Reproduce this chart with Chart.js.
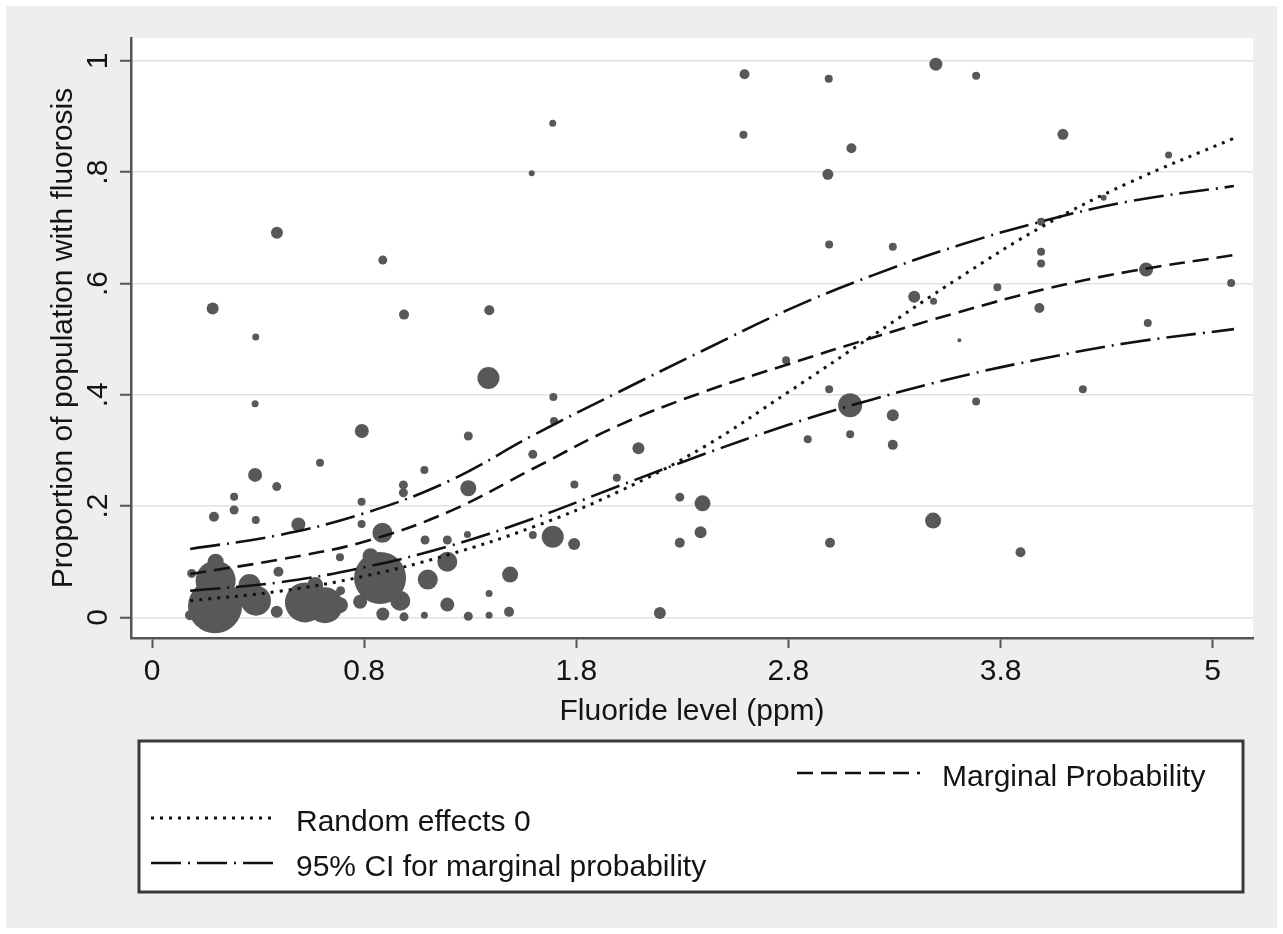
<!DOCTYPE html>
<html>
<head>
<meta charset="utf-8">
<script src="https://cdn.jsdelivr.net/npm/chart.js@4.4.1/dist/chart.umd.min.js"></script>
<style>
  html, body { margin: 0; padding: 0; background: #fff; }
  #wrap { width: 1283px; height: 934px; }
</style>
</head>
<body>
<div id="wrap"><canvas id="chart" width="1283" height="934"></canvas></div>
<script>
// x axis is in tick units: tick i is labelled xTickLabels[i]
const xTickValues = [0, 1, 2, 3, 4, 5]
const xTickLabels = ["0", "0.8", "1.8", "2.8", "3.8", "5"]
const yTickValues = [0, 0.2, 0.4, 0.6, 0.8, 1]
const yTickLabels = ["0", ".2", ".4", ".6", ".8", "1"]

// observed proportions (x, y, marker radius)
const obsX = [1.889, 1.790, 0.589, 1.088, 0.286, 1.188, 1.590, 0.489, 1.586, 1.892,
    2.793, 3.190, 3.695, 3.885, 2.788, 3.297, 3.186, 4.294, 4.486, 4.792,
    4.191, 3.192, 3.492, 4.191, 4.191, 4.686, 5.087, 3.985, 3.593, 3.684,
    4.183, 4.694, 3.806, 2.989, 3.192, 3.291, 3.492, 4.388, 3.885, 3.091,
    3.291, 3.492, 2.488, 2.595, 2.586, 2.488, 3.682, 3.196, 4.094, 2.394,
    1.895, 1.491, 1.795, 2.293, 1.991, 2.191, 1.491, 1.889, 1.990, 1.795,
    1.487, 1.392, 1.392, 1.300, 1.688, 1.392, 1.491, 1.589, 1.683, 1.589,
    0.989, 0.792, 0.486, 0.588, 1.284, 1.185, 1.185, 0.387, 0.387, 0.292,
    0.489, 0.988, 0.988, 0.690, 1.086, 1.287, 0.886, 0.596, 0.889, 0.981,
    1.188, 1.088, 1.188, 1.284, 0.588, 0.187, 0.179, 0.486,
    0.297, 0.300, 0.300, 0.490, 0.460, 0.420,
    0.721, 0.815, 0.769, 0.886,
    1.075, 1.170, 1.030]
const obsY = [0.888, 0.798, 0.691, 0.642, 0.555, 0.544, 0.552, 0.504, 0.430, 0.396,
    0.976, 0.968, 0.994, 0.973, 0.867, 0.843, 0.796, 0.868, 0.754, 0.831,
    0.711, 0.670, 0.666, 0.657, 0.636, 0.625, 0.601, 0.593, 0.576, 0.568,
    0.556, 0.529, 0.498, 0.462, 0.410, 0.381, 0.363, 0.410, 0.388, 0.320,
    0.329, 0.310, 0.216, 0.205, 0.153, 0.134, 0.174, 0.134, 0.117, 0.008,
    0.353, 0.326, 0.293, 0.304, 0.239, 0.251, 0.232, 0.145, 0.132, 0.148,
    0.149, 0.139, 0.100, 0.068, 0.077, 0.023, 0.002, 0.004, 0.010, 0.043,
    0.335, 0.278, 0.256, 0.235, 0.265, 0.238, 0.224, 0.217, 0.193, 0.181,
    0.175, 0.208, 0.168, 0.167, 0.152, 0.139, 0.108, 0.082, 0.048, 0.028,
    0.028, 0.006, 0.001, 0.004, 0.010, 0.079, 0.004, 0.384,
    0.020, 0.066, 0.100, 0.030, 0.058, 0.040,
    0.027, 0.022, 0.058, 0.022,
    0.071, 0.030, 0.110]
const obsR = [3.5, 3, 6, 4.5, 6, 5, 5, 3.5, 11, 4,
    5, 4, 6.5, 4, 4, 5, 5.5, 5.5, 3, 3.5,
    4, 4, 4, 4, 4, 7, 4, 4, 6, 3.5,
    5, 4, 2, 4, 4, 12, 6, 4, 4, 4,
    4, 5, 4.5, 8, 6, 5, 8, 5, 5, 6,
    4, 4.5, 4.5, 6, 4, 4, 8, 11, 6, 4,
    3.5, 4.5, 10, 10, 8, 7, 4.5, 3.5, 5, 3.5,
    7, 4, 7, 4.5, 4, 4.5, 4.5, 4, 4.5, 5,
    4, 4, 4, 7, 10, 4.5, 4, 5, 4.5, 7,
    6, 6.5, 4.5, 3.5, 6, 4.5, 5, 3.5,
    27, 20, 8, 15, 11, 10,
    20, 18, 8, 8,
    26, 10, 8]

// fitted curves
const curveX = [0.18, 0.6, 1.0, 1.4, 1.8, 2.2, 2.6, 3.0, 3.4, 3.8, 4.2, 4.6, 5.1]
const marginal = [0.078, 0.104, 0.136, 0.190, 0.268, 0.345, 0.405, 0.455, 0.503, 0.548, 0.589, 0.621, 0.651]
const random0 = [0.030, 0.047, 0.074, 0.113, 0.163, 0.226, 0.306, 0.405, 0.507, 0.609, 0.703, 0.780, 0.861]
const ciUpper = [0.123, 0.148, 0.187, 0.245, 0.328, 0.405, 0.480, 0.553, 0.615, 0.668, 0.712, 0.747, 0.775]
const ciLower = [0.048, 0.063, 0.090, 0.128, 0.178, 0.236, 0.293, 0.346, 0.392, 0.432, 0.465, 0.493, 0.518]

const FONT = '"Liberation Sans", Arial, Helvetica, sans-serif'
const INK = "#141414"
const DASH_MARGINAL = [16, 8]
const DASH_RANDOM = [3, 6]
const DASH_CI = [30, 7, 2, 7]

const toXY = (xs, ys) => xs.map((x, i) => ({x: x, y: ys[i]}))

const curve = (label, ys, dash, width) => ({
    type: "line",
    label: label,
    data: toXY(curveX, ys),
    borderColor: "#111",
    borderWidth: width,
    borderDash: dash,
    pointRadius: 0,
    fill: false,
    tension: 0.4,
    order: 0
})

const legendRows = [
    {text: "Marginal Probability", dash: DASH_MARGINAL, width: 2.6, x: 797, y: 786},
    {text: "Random effects 0", dash: DASH_RANDOM, width: 3, x: 151, y: 831},
    {text: "95% CI for marginal probability", dash: DASH_CI, width: 2.6, x: 151, y: 876}
]

const decor = {
    id: "decor",
    beforeDraw(chart) {
        const {ctx, chartArea: a, width, height} = chart
        ctx.save()
        ctx.fillStyle = "#ffffff"
        ctx.fillRect(0, 0, width, height)
        ctx.fillStyle = "#eeeeee"
        ctx.fillRect(6, 6, width - 12, height - 12)
        ctx.fillStyle = "#ffffff"
        ctx.fillRect(a.left, a.top, a.right - a.left, a.bottom - a.top)
        ctx.restore()
    },
    afterDraw(chart) {
        const {ctx, chartArea: a} = chart
        const ys = chart.scales.y
        ctx.save()
        ctx.fillStyle = INK
        ctx.font = `30px ${FONT}`
        ctx.textAlign = "center"
        ctx.textBaseline = "alphabetic"

        // rotated y tick labels
        yTickValues.forEach((v, i) => {
            ctx.save()
            ctx.translate(107, ys.getPixelForValue(v))
            ctx.rotate(-Math.PI / 2)
            ctx.fillText(yTickLabels[i], 0, 0)
            ctx.restore()
        })

        // axis titles
        ctx.save()
        ctx.translate(72, (a.top + a.bottom) / 2)
        ctx.rotate(-Math.PI / 2)
        ctx.fillText("Proportion of population with fluorosis", 0, 0)
        ctx.restore()
        ctx.fillText("Fluoride level (ppm)", (a.left + a.right) / 2, 720)

        // legend box
        ctx.fillStyle = "#ffffff"
        ctx.fillRect(139, 741, 1104, 151)
        ctx.strokeStyle = "#3a3a3a"
        ctx.lineWidth = 3
        ctx.strokeRect(139, 741, 1104, 151)

        ctx.textAlign = "left"
        legendRows.forEach(row => {
            ctx.beginPath()
            ctx.setLineDash(row.dash)
            ctx.strokeStyle = "#111"
            ctx.lineWidth = row.width
            ctx.moveTo(row.x, row.y - 13)
            ctx.lineTo(row.x + 123, row.y - 13)
            ctx.stroke()
            ctx.setLineDash([])
            ctx.fillStyle = INK
            ctx.fillText(row.text, row.x + 145, row.y)
        })
        ctx.restore()
    }
}

const ctx = document.querySelector("#chart")

new Chart(ctx, {
    type: "scatter",
    data: {
        datasets: [
            curve("Marginal Probability", marginal, DASH_MARGINAL, 2.6),
            curve("Random effects 0", random0, DASH_RANDOM, 3),
            curve("95% CI for marginal probability", ciUpper, DASH_CI, 2.6),
            curve("95% CI lower", ciLower, DASH_CI, 2.6),
            {
                type: "bubble",
                label: "observed",
                data: obsX.map((x, i) => ({x: x, y: obsY[i], r: obsR[i]})),
                backgroundColor: "rgb(88, 88, 88)",
                borderWidth: 0,
                order: 1
            }
        ]
    },
    options: {
        responsive: false,
        animation: false,
        devicePixelRatio: 1,
        events: [],
        layout: {
            padding: {left: 0, top: 38, right: 30, bottom: 0}
        },
        scales: {
            x: {
                type: "linear",
                min: -0.099,
                max: 5.19,
                afterFit: (s) => { s.height = 296 },
                afterBuildTicks: (s) => { s.ticks = xTickValues.map(v => ({value: v})) },
                grid: {
                    drawOnChartArea: false,
                    drawTicks: true,
                    tickLength: 10,
                    tickColor: "#555",
                    tickWidth: 2
                },
                border: {color: "#555", width: 2.5},
                ticks: {
                    padding: 6,
                    color: INK,
                    font: {family: FONT, size: 30},
                    maxRotation: 0,
                    callback: (value) => xTickLabels[xTickValues.indexOf(value)]
                }
            },
            y: {
                type: "linear",
                min: -0.037,
                max: 1.041,
                afterFit: (s) => { s.width = 131 },
                afterBuildTicks: (s) => { s.ticks = yTickValues.map(v => ({value: v})) },
                grid: {
                    color: "#e2e2e2",
                    lineWidth: 1.5,
                    drawTicks: true,
                    tickLength: 11,
                    tickColor: "#555",
                    tickWidth: 2
                },
                border: {color: "#555", width: 2.5},
                ticks: {display: false}
            }
        },
        plugins: {
            legend: {display: false},
            tooltip: {enabled: false}
        }
    },
    plugins: [decor]
})
</script>
</body>
</html>
